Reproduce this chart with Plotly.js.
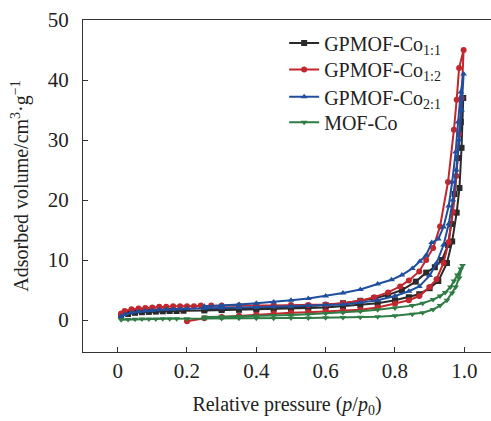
<!DOCTYPE html>
<html>
<head>
<meta charset="utf-8">
<script src="https://cdn.plot.ly/plotly-3.0.1.min.js"></script>
<style>html,body{margin:0;padding:0;background:#fff;}#chart{width:491px;height:421px;}</style>
</head>
<body>
<div id="chart"></div>
<script>
// Series names
const seriesNames = ["GPMOF-Co<sub>1:1</sub>", "GPMOF-Co<sub>1:2</sub>", "GPMOF-Co<sub>2:1</sub>", "MOF-Co"];

// GPMOF-Co 1:1 (adsorption then desorption)
const x11 = [0.01,0.03,0.05,0.07,0.09,0.11,0.13,0.15,0.17,0.19,0.25,0.3,0.35,0.4,0.45,0.5,0.55,0.6,0.65,0.7,0.75,0.8,0.84,0.87,0.9,0.925,0.95,0.965,0.978,0.986,0.992,0.997,
             0.99,0.982,0.972,0.962,0.953,0.935,0.915,0.89,0.86,0.82,0.78,0.74,0.7,0.65,0.6,0.55,0.5,0.45,0.4,0.35,0.3,0.25];
const y11 = [0.7,1.0,1.2,1.3,1.35,1.4,1.45,1.5,1.5,1.55,1.6,1.65,1.7,1.75,1.8,1.9,2.0,2.1,2.3,2.5,2.8,3.3,3.8,4.3,5.3,6.5,9.5,13.1,17.9,22,28.7,37,
             33,27,21,16,12.5,10,8.8,7.9,6.4,5.0,4.2,3.6,3.2,2.8,2.5,2.3,2.2,2.1,2.0,1.9,1.85,1.8];

// GPMOF-Co 1:2
const x12 = [0.2,0.25,0.3,0.35,0.4,0.45,0.5,0.55,0.6,0.65,0.7,0.75,0.8,0.84,0.87,0.9,0.92,0.94,0.955,0.967,0.977,0.985,0.992,0.998,
             0.985,0.978,0.97,0.953,0.93,0.91,0.89,0.87,0.84,0.815,0.78,0.74,0.7,0.65,0.6,0.55,0.5,0.45,0.4,0.35,0.3,0.27,0.24,0.22,0.2,0.18,0.16,0.14,0.12,0.1,0.08,0.06,0.04,0.02,0.01];
const y12 = [-0.2,0.3,0.5,0.7,0.9,1.1,1.2,1.3,1.4,1.5,1.7,2.1,2.7,3.3,4.0,5.5,6.8,9.5,13,18,24,31,37,45,
             42,36.7,31.7,23,15.6,12,10,8.1,6.6,5.6,4.6,3.8,3.2,2.8,2.6,2.5,2.5,2.4,2.4,2.4,2.4,2.4,2.4,2.3,2.3,2.3,2.3,2.2,2.2,2.1,2.0,1.9,1.8,1.5,1.1];

// GPMOF-Co 2:1
const x21 = [0.01,0.02,0.04,0.06,0.08,0.1,0.12,0.14,0.16,0.18,0.2,0.25,0.3,0.35,0.4,0.45,0.5,0.55,0.6,0.65,0.7,0.75,0.8,0.84,0.87,0.9,0.92,0.94,0.955,0.967,0.977,0.985,0.992,0.998,
             0.99,0.982,0.975,0.965,0.955,0.94,0.925,0.906,0.89,0.872,0.85,0.82,0.79,0.75,0.7,0.65,0.6,0.55,0.5,0.45,0.4,0.35,0.3,0.25];
const y21 = [0.6,0.9,1.2,1.4,1.5,1.6,1.7,1.75,1.8,1.85,1.9,1.95,2.0,2.05,2.1,2.2,2.3,2.4,2.5,2.6,2.9,3.3,4.0,4.8,5.6,7.4,9.5,12.5,16,20,25,30,35,41,
             38,33,28,23,19,15.5,13.5,12.9,10.8,9.8,8.6,7.5,6.7,6.0,5.1,4.5,4.0,3.6,3.3,3.0,2.8,2.6,2.4,2.3];

// MOF-Co
const xMOF = [0.01,0.03,0.05,0.07,0.09,0.11,0.13,0.15,0.17,0.2,0.25,0.3,0.35,0.4,0.45,0.5,0.55,0.6,0.65,0.7,0.75,0.8,0.85,0.88,0.91,0.93,0.95,0.965,0.975,0.985,0.995,
              0.99,0.98,0.97,0.96,0.945,0.93,0.91,0.88,0.85,0.8,0.75,0.7,0.65,0.6,0.55,0.5,0.45,0.4,0.35,0.3,0.25];
const yMOF = [0.05,0.1,0.12,0.15,0.15,0.18,0.2,0.2,0.2,0.22,0.25,0.25,0.28,0.3,0.3,0.32,0.35,0.38,0.4,0.45,0.55,0.7,0.95,1.2,1.75,2.4,3.3,4.5,5.5,7.0,9.1,
              8.5,7.5,6.5,5.5,4.6,4.0,3.4,2.8,2.4,2.0,1.7,1.45,1.25,1.1,0.95,0.85,0.75,0.65,0.6,0.55,0.5];

const xTicks = [0, 0.2, 0.4, 0.6, 0.8, 1.0];
const xTickText = ["0", "0.2", "0.4", "0.6", "0.8", "1.0"];
const yTicks = [0, 10, 20, 30, 40, 50];

const colors = ["#2a2a2a", "#c1272d", "#1f4f9e", "#2f7c45"];
const symbols = ["square", "circle", "triangle-up", "triangle-down"];
const legendIds = ["legend", "legend2", "legend3", "legend4"];
const legendY = [0.931, 0.851, 0.769, 0.692];
const xs = [x11, x12, x21, xMOF];
const ys = [y11, y12, y21, yMOF];

const traces = xs.map((x, i) => ({
  x: x, y: ys[i], name: seriesNames[i], type: "scatter", mode: "lines+markers",
  legend: legendIds[i],
  line: {color: colors[i], width: 2},
  marker: {color: colors[i], symbol: symbols[i], size: 6}
}));

const font = "Liberation Serif, Times New Roman, serif";
const layout = {
  width: 491, height: 421,
  margin: {l: 83, r: 0, t: 20, b: 69},
  paper_bgcolor: "#fff", plot_bgcolor: "#fff",
  font: {family: font, size: 19, color: "#222"},
  showlegend: true,
  xaxis: {
    range: [-0.1, 1.077], tickvals: xTicks, ticktext: xTickText,
    ticks: "inside", ticklen: 5, tickcolor: "#333", showgrid: false, zeroline: false,
    showline: true, linecolor: "#333", linewidth: 1, mirror: true,
    tickfont: {family: font, size: 21, color: "#222"},
    title: {text: "Relative pressure (<i>p</i>/<i>p</i><sub>0</sub>)", font: {family: font, size: 20, color: "#222"}, standoff: 14}
  },
  yaxis: {
    range: [-5.33, 50], tickvals: yTicks,
    ticks: "inside", ticklen: 5, tickcolor: "#333", showgrid: false, zeroline: false,
    showline: true, linecolor: "#333", linewidth: 1, mirror: false,
    ticklabelstandoff: 9,
    tickfont: {family: font, size: 21, color: "#222"},
    title: {text: "Adsorbed volume/cm<sup>3</sup>·g<sup>−1</sup>", font: {family: font, size: 20, color: "#222"}, standoff: 13}
  }
};
legendIds.forEach((id, i) => {
  layout[id] = {x: 0.493, y: legendY[i], xanchor: "left", yanchor: "middle", bgcolor: "rgba(0,0,0,0)",
                font: {family: font, size: 20, color: "#222"}};
});

Plotly.newPlot("chart", traces, layout, {staticPlot: true, displayModeBar: false});
</script>
</body>
</html>
